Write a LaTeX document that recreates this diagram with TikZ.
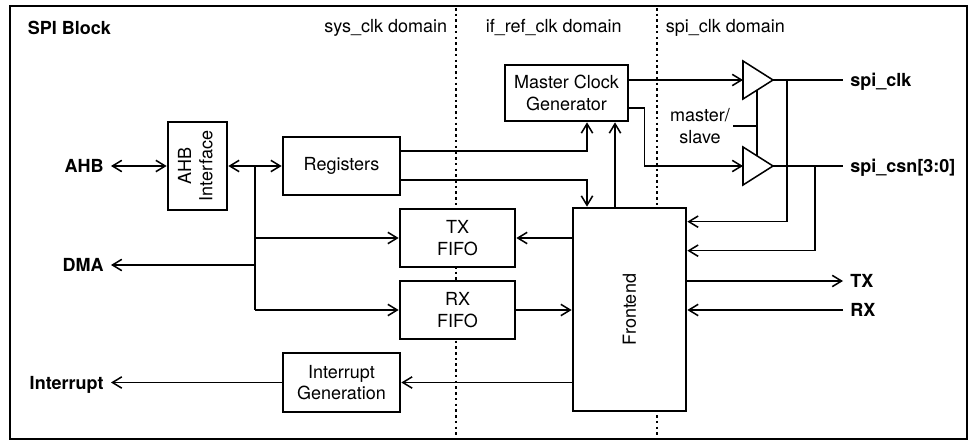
\documentclass[tikz,border=0pt]{standalone}
\usepackage{fontspec}
\setmainfont{TeX Gyre Heros}
\usepackage{tikz}
\usetikzlibrary{arrows.meta,calc}
\newcommand{\dfont}{\fontsize{13.5}{16}\selectfont}
\tikzset{
	blk/.style={draw, line width=2pt, fill=white, align=center, inner sep=0pt},
	port/.style={font=\dfont\bfseries, text depth=0pt, inner xsep=5pt},
	wire/.style={line width=1.15pt},
	sep/.style={line width=1.9pt, dash pattern=on 1.9pt off 2.4pt},
	buf/.pic={
		\draw[wire] (0,-19) -- (30,0) -- (0,19) -- cycle;
		\coordinate (-in) at (0,0);
		\coordinate (-out) at (30,0);
		\coordinate (-top) at (14,-10.13);
		\coordinate (-bot) at (14,10.13);
	}
}
\begin{document}
\begin{tikzpicture}[x=0.75pt, y=-0.75pt, font=\dfont, wire, >={Straight Barb[length=7pt,width=8.5pt]}]
			\useasboundingbox (0,0) rectangle (973,442);
			\draw[line width=2pt] (10,6) rectangle (967,439);
			\draw[sep] (456,8) -- (456,437);
			\draw[sep] (657,8) -- (657,437);
			\node[anchor=west, inner sep=0pt, font=\dfont\bfseries] (title) at (27,28) {SPI Block};
			\node[anchor=east, inner sep=0pt] (sysd) at (448,28) {sys\_clk domain};
			\node[anchor=west, inner sep=0pt] (ifd) at (485,28) {if\_ref\_clk domain};
			\node[anchor=west, inner sep=0pt] (spid) at (665,28) {spi\_clk domain};
			\node[blk, minimum width=44.25pt, minimum height=66pt] (ahbif) at (197.5,166) {\rotatebox{90}{\begin{tabular}{@{}c@{}}AHB\\Interface\end{tabular}}};
			\node[blk, minimum width=87.75pt, minimum height=43.5pt] (reg) at (341.5,166) {Registers};
			\node[blk, minimum width=86.25pt, minimum height=43.5pt] (txf) at (457.5,238) {TX\\FIFO};
			\node[blk, minimum width=86.25pt, minimum height=43.5pt] (rxf) at (457.5,310) {RX\\FIFO};
			\node[blk, minimum width=87.75pt, minimum height=44.25pt] (irq) at (341.5,382.5) {Interrupt\\Generation};
			\node[blk, minimum width=92.25pt, minimum height=42pt] (mcg) at (566.5,93) {Master Clock\\Generator};
			\node[blk, minimum width=84.75pt, minimum height=152.25pt] (fe) at (629.5,309.5) {\rotatebox{90}{Frontend}};
			\node[port, anchor=east] (ahb) at (111,166) {AHB};
			\node[port, anchor=east] (dma) at (111,265) {DMA};
			\node[port, anchor=east] (irqo) at (111,382.5) {Interrupt};
			\node[port, anchor=west] (clk) at (843,80) {spi\_clk};
			\node[port, anchor=west] (csn) at (843,166) {spi\_csn[3:0]};
			\node[port, anchor=west] (tx) at (843,281) {TX};
			\node[port, anchor=west] (rx) at (843,310) {RX};
			\pic (bufa) at (743,80) {buf};
			\pic (bufb) at (743,166) {buf};
			\node[align=center, inner sep=2pt] (ms) at (700,126) {master/\\slave};
			\coordinate (bus) at (255,166);
			\path[<->] (ahb) edge (ahbif) (ahbif) edge (reg);
			\draw (bus) -- (bus |- rxf);
			\path[->]
			(bus |- txf) edge (txf)
			(bus |- rxf) edge (rxf)
			(bus |- dma) edge (dma);
			\draw[->] ($(reg.east)+(0,-15)$) -| ($(mcg.south)+(20.5,0)$);
			\draw[->] ($(reg.east)+(0,14)$) -| ($(fe.north)+(-42.5,0)$);
			\draw[->] ($(fe.north)+(-14.5,0)$) -- ($(mcg.south)+(48.5,0)$);
			\draw[->] (mcg.east |- bufa-in) -- (bufa-in);
			\draw[->] ($(mcg.east)+(0,15)$) -- ++(15,0) |- (bufb-in);
			\draw (bufa-bot) -- (bufb-top);
			\draw (ms.east) -- (ms.east -| bufa-bot);
			\path (bufa-out) edge (clk) (bufb-out) edge (csn);
			\draw[->] ($(bufa-out)+(14,0)$) |- ($(fe.north east)+(0,15)$);
			\draw[->] ($(bufb-out)+(42,0)$) |- ($(fe.north east)+(0,44)$);
			\path[->]
			(fe.east |- tx) edge (tx)
			(rx) edge (fe.east |- rx)
			(fe.west |- txf) edge (txf)
			(rxf) edge (fe.west |- rxf)
			(fe.west |- irq) edge (irq)
			(irq) edge (irqo);
\end{tikzpicture}
\end{document}
